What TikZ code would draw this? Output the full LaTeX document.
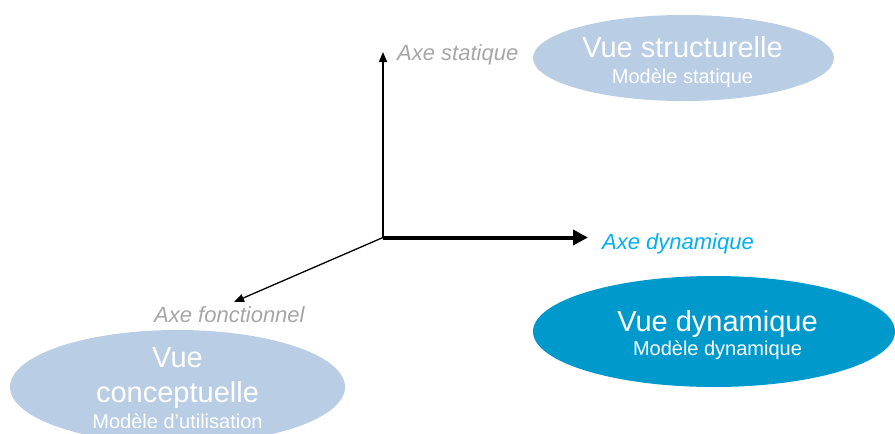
\documentclass[tikz,border=0pt]{standalone}
\usepackage{fontspec}
\setmainfont{Liberation Sans}
\usetikzlibrary{arrows.meta,shapes.geometric}
\definecolor{lightview}{HTML}{B9CDE5}
\definecolor{darkview}{HTML}{0099CC}
\definecolor{axisgray}{HTML}{A6A6A6}
\definecolor{axiscyan}{HTML}{00B0F0}
\tikzset{
  viewell/.style={ellipse, inner sep=0pt, draw=none},
  bigtxt/.style={anchor=base, text=white, inner sep=0pt, font=\fontsize{29}{33}\selectfont},
  smalltxt/.style={anchor=base, text=white, inner sep=0pt, font=\fontsize{20}{24}\selectfont},
  axislabel/.style={anchor=base west, inner sep=0pt, font=\fontsize{22}{26}\selectfont\itshape},
  thinaxis/.style={line width=1.5pt, -{Triangle[length=10pt,width=8pt]}},
  thickaxis/.style={line width=4pt, -{Triangle[length=15pt,width=15pt]}}
}
\begin{document}
\begin{tikzpicture}[x=1pt,y=-1pt]
\useasboundingbox (0,0) rectangle (895,434);
% ellipses
\node[viewell, fill=lightview, minimum width=301pt, minimum height=86pt] (vs) at (683.5,58) {};
\node[viewell, fill=darkview, minimum width=362pt, minimum height=111pt] (vd) at (714,331.5) {};
\node[viewell, fill=lightview, minimum width=335pt, minimum height=114pt] (vc) at (177.5,387) {};
% texts in ellipses
\node[bigtxt] (vs1) at (682.5,57) {Vue structurelle};
\node[smalltxt] (vs2) at (682.5,83) {Modèle statique};
\node[bigtxt] (vd1) at (717.5,331) {Vue dynamique};
\node[smalltxt] (vd2) at (717.5,355) {Modèle dynamique};
\node[bigtxt] (vc1) at (177.5,367) {Vue};
\node[bigtxt] (vc2) at (177.5,402) {conceptuelle};
\node[smalltxt] (vc3) at (177.5,428) {Modèle d’utilisation};
% axes
\coordinate (o) at (383,237.5);
\coordinate (ts) at (383,52);
\coordinate (td) at (588,237.5);
\coordinate (tf) at (234,302);
\draw[thinaxis] (o) -- (ts);
\draw[thickaxis] (o) -- (td);
\draw[line width=1.3pt, -{Triangle[length=10pt,width=8pt]}] (o) -- (tf);
% axis labels
\node[axislabel, text=axisgray] (ls) at (397,60) {Axe statique};
\node[axislabel, text=axiscyan] (ld) at (602,249) {Axe dynamique};
\node[axislabel, text=axisgray] (lf) at (154,322) {Axe fonctionnel};
\end{tikzpicture}
\end{document}
